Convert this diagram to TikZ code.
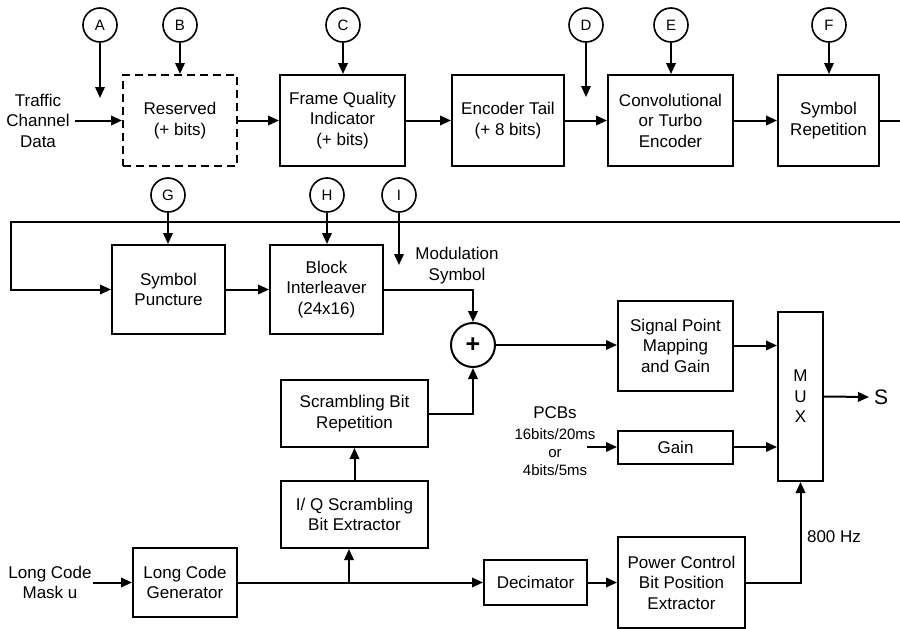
\documentclass[tikz,border=0pt]{standalone}
\usepackage{fontspec}
\setmainfont{Liberation Sans}
\usetikzlibrary{arrows.meta}
\tikzset{
    signalflow/.style={
        x=1pt, y=-1pt,
        line width=2pt,
        >={Triangle[length=11pt,width=9.5pt]},
        font=\fontsize{17}{20.5}\selectfont,
        block/.style={draw, align=center, inner sep=0pt},
        tap/.style={draw, circle, minimum size=34pt, inner sep=0pt, line width=1.6pt, font=\fontsize{15}{18}\selectfont},
        note/.style={align=center, inner sep=4pt},
    },
}

\begin{document}
\begin{tikzpicture}[signalflow]
            \useasboundingbox (0,0) rectangle (900,629);
            \node[tap] (A) at (100,25) {A};
            \node[tap] (B) at (180,25) {B};
            \node[tap] (C) at (343,25) {C};
            \node[tap] (D) at (586,25) {D};
            \node[tap] (E) at (671,25) {E};
            \node[tap] (F) at (829,25) {F};
            \node[tap] (G) at (168,195) {G};
            \node[tap] (H) at (327,195) {H};
            \node[tap] (I) at (399,195) {I};

            \node[block, dash pattern=on 8pt off 5pt, minimum width=114pt, minimum height=91pt] (res) at (180,120.5) {Reserved\\(+ bits)};
            \node[block, minimum width=125pt, minimum height=91pt] (fqi) at (342.5,120.5) {Frame Quality\\Indicator\\(+ bits)};
            \node[block, minimum width=112pt, minimum height=91pt] (tail) at (508,120.5) {Encoder Tail\\(+ 8 bits)};
            \node[block, minimum width=125pt, minimum height=91pt] (enc) at (670.5,120.5) {Convolutional\\or Turbo\\Encoder};
            \node[block, minimum width=101pt, minimum height=91pt] (rep) at (828.5,120.5) {Symbol\\Repetition};
            \node[block, minimum width=113pt, minimum height=89pt] (punc) at (168.5,289.5) {Symbol\\Puncture};
            \node[block, minimum width=113pt, minimum height=89pt] (intl) at (326.5,289.5) {Block\\Interleaver\\(24x16)};
            \node[block, minimum width=147pt, minimum height=67pt] (sbr) at (354.5,413.5) {Scrambling Bit\\Repetition};
            \node[block, minimum width=147pt, minimum height=67pt] (iq) at (354.5,514.5) {I/ Q Scrambling\\Bit Extractor};
            \node[block, minimum width=104pt, minimum height=69pt] (lcg) at (185,582.5) {Long Code\\Generator};
            \node[block, minimum width=115pt, minimum height=90pt] (spm) at (675.5,345.5) {Signal Point\\Mapping\\and Gain};
            \node[block, minimum width=115pt, minimum height=33pt] (gain) at (675.5,447) {Gain};
            \node[block, minimum width=45pt, minimum height=169pt] (mux) at (800.5,396.5) {M\\U\\X};
            \node[block, minimum width=103pt, minimum height=45pt] (dec) at (535.5,582.5) {Decimator};
            \node[block, minimum width=127pt, minimum height=91pt] (pcbpe) at (681.5,582.5) {Power Control\\Bit Position\\Extractor};
            \node[draw, circle, minimum size=44pt, inner sep=0pt, font=\fontsize{25}{25}\bfseries] (sum) at (473,345) {+};

            \node[note] (traffic) at (38,120.5) {Traffic\\Channel\\Data};
            \node[note, inner sep=0pt] (mask) at (50,582.5) {Long Code\\Mask u};
            \node[note] (modsym) at (457,265.5) {Modulation\\Symbol};
            \node[note] (pcbs) at (555,413) {PCBs};
            \node[note, font=\fontsize{15}{18}\selectfont] (rate) at (555,452) {16bits/20ms\\or\\4bits/5ms};
            \node[note] (hz) at (834,537) {800 Hz};
            \node[note, font=\fontsize{21}{21}\selectfont] (S) at (881,397) {S};

            \coordinate (Aend) at (100,98);
            \coordinate (Dend) at (586,97);
            \coordinate (Iend) at (399,265);
            \coordinate (rowend) at (900,120.5);
            \coordinate (rowstart) at (900,222);
            \coordinate (bend) at (11,222);
            \coordinate (split) at (349,582.5);
            \coordinate (pcbin) at (587,447);

            \draw[->] (A) -- (Aend);
            \draw[->] (B) -- (res.north);
            \draw[->] (C) -- (C |- fqi.north);
            \draw[->] (D) -- (Dend);
            \draw[->] (E) -- (E |- enc.north);
            \draw[->] (F) -- (F |- rep.north);
            \draw[->] (G) -- (G |- punc.north);
            \draw[->] (H) -- (H |- intl.north);
            \draw[->] (I) -- (Iend);

            \draw[->] (traffic.east) -- (res.west);
            \draw[->] (res) -- (fqi);
            \draw[->] (fqi) -- (tail);
            \draw[->] (tail) -- (enc);
            \draw[->] (enc) -- (rep);
            \draw (rep.east) -- (rowend);
            \draw[->] (rowstart) -- (bend) |- (punc.west);
            \draw[->] (punc) -- (intl);
            \draw[->] (intl.east) -| (sum.north);
            \draw[->] (sbr.east) -| (sum.south);
            \draw[->] (iq.north) -- (sbr.south);
            \draw[->] (mask.east) -- (lcg.west);
            \draw[->] (lcg.east) -- (dec.west);
            \draw[->] (split) -- (split |- iq.south);
            \draw[->] (sum.east) -- (sum.east -| spm.west);
            \draw[->] (spm.east) -- (spm.east -| mux.west);
            \draw[->] (pcbin) -- (gain.west);
            \draw[->] (gain.east) -- (gain.east -| mux.west);
            \draw[->] (dec) -- (pcbpe);
            \draw[->] (pcbpe.east) -| (mux.south);
            \draw[->] (mux.east) -- (S.west);
        \end{tikzpicture}
\end{document}
